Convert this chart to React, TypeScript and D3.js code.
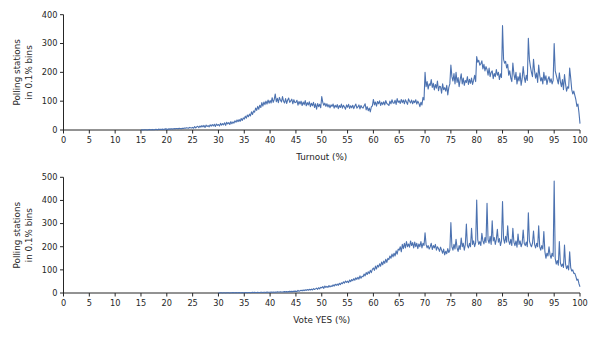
import React from 'react';
import * as d3 from 'd3';

const xTicks = [0, 5, 10, 15, 20, 25, 30, 35, 40, 45, 50, 55, 60, 65, 70, 75, 80, 85, 90, 95, 100];
const turnoutYTicks = [0, 100, 200, 300, 400];
const yesYTicks = [0, 100, 200, 300, 400, 500];
const binStep = 0.2;

const turnoutStart = 15;
const turnoutCounts = [
  0, 1, 0, 1, 1, 1, 0, 1, 2, 1, 1, 2, 1, 1, 2, 2, 1, 3, 2, 2, 2, 3, 2, 3, 4,
  3, 2, 4, 3, 4, 4, 3, 5, 4, 5, 5, 4, 6, 5, 4, 6, 5, 7, 6, 8, 7, 6, 9, 8, 7,
  9, 6, 12, 7, 11, 13, 8, 14, 10, 15, 11, 16, 9, 17, 12, 15, 11, 18, 13, 19, 14, 20, 12, 21, 16,
  19, 14, 23, 17, 22, 18, 25, 16, 27, 21, 26, 19, 29, 22, 28, 24, 32, 27, 35, 29, 36, 30, 40, 33, 42,
  38, 48, 41, 52, 46, 55, 49, 63, 54, 66, 62, 76, 68, 82, 72, 86, 78, 95, 83, 97, 88, 100, 90, 104, 93,
  102, 94, 112, 96, 106, 125, 98, 110, 95, 113, 104, 97, 116, 100, 94, 109, 92, 104, 111, 96, 101, 107, 91, 105, 95,
  96, 103, 86, 99, 90, 100, 85, 97, 88, 102, 84, 95, 87, 98, 81, 93, 84, 96, 78, 91, 72, 92, 81, 89, 77,
  116, 96, 86, 93, 82, 91, 80, 88, 77, 87, 82, 90, 76, 86, 79, 88, 74, 85, 78, 90, 76, 86, 80, 72, 87,
  79, 89, 75, 84, 77, 86, 74, 83, 90, 76, 80, 87, 73, 85, 78, 76, 84, 91, 70, 81, 67, 76, 63, 80, 84,
  106, 87, 97, 83, 99, 91, 101, 85, 96, 88, 98, 87, 102, 92, 89, 85, 100, 91, 105, 94, 93, 103, 89, 109, 96,
  101, 92, 106, 95, 104, 91, 105, 97, 89, 108, 100, 94, 104, 91, 101, 95, 105, 90, 100, 93, 81, 96, 87, 113, 104,
  200, 150, 168, 142, 160, 155, 175, 148, 162, 139, 158, 145, 170, 136, 152, 150, 128, 160, 140, 147, 135, 155, 122, 148, 160,
  225, 185, 170, 196, 160, 200, 165, 182, 150, 175, 195, 160, 180, 155, 172, 165, 185, 158, 176, 162, 180, 158, 172, 190, 168,
  255, 235, 242, 225, 230, 240, 212, 228, 205, 220, 210, 190, 215, 185, 200, 205, 178, 196, 185, 210, 190, 200, 175, 195, 182,
  362, 245, 232, 238, 215, 228, 190, 205, 180, 168, 232, 195, 175, 200, 160, 185, 170, 198, 155, 178, 220, 185, 165, 190, 172,
  318, 245, 220, 200, 185, 245, 205, 180, 198, 165, 225, 190, 170, 182, 160, 200, 172, 188, 158, 176, 185, 165, 178, 160, 172,
  300, 205, 190, 175, 160, 198, 168, 150, 175, 140, 192, 160, 135, 150, 145, 215, 180, 140, 125, 135, 120, 105, 82, 90, 60,
  22,
];

const yesStart = 30;
const yesCounts = [
  1, 0, 1, 1, 0, 1, 1, 0, 1, 1, 1, 0, 1, 1, 2, 1, 1, 2, 1, 1, 2, 1, 1, 2, 1,
  1, 2, 2, 1, 2, 2, 1, 2, 3, 2, 3, 2, 2, 3, 2, 2, 3, 3, 2, 3, 3, 2, 4, 3, 3,
  3, 4, 3, 4, 3, 4, 3, 5, 4, 4, 5, 4, 4, 5, 6, 5, 6, 5, 6, 7, 6, 7, 6, 8, 7,
  8, 6, 11, 7, 10, 12, 9, 13, 10, 14, 11, 15, 12, 16, 13, 17, 13, 19, 15, 18, 21, 16, 23, 18, 25,
  22, 28, 20, 30, 24, 29, 24, 32, 26, 31, 28, 35, 30, 38, 33, 39, 33, 42, 36, 44, 40, 48, 43, 52, 46,
  51, 45, 56, 49, 58, 53, 62, 55, 66, 59, 68, 60, 74, 64, 72, 70, 82, 74, 88, 80, 92, 84, 98, 88, 102,
  108, 98, 116, 104, 120, 112, 126, 116, 134, 122, 138, 128, 146, 132, 150, 144, 160, 150, 168, 156, 172, 160, 182, 168, 190,
  185, 200, 178, 210, 192, 215, 195, 222, 200, 212, 198, 225, 205, 218, 195, 220, 200, 215, 192, 212, 200, 222, 195, 215, 205,
  260, 210, 195, 205, 190, 200, 215, 188, 205, 195, 210, 185, 200, 192, 180, 198, 185, 172, 190, 165, 180, 170, 192, 175, 185,
  304, 200, 185, 210, 190, 232, 195, 180, 205, 188, 238, 200, 215, 185, 210, 298, 205, 195, 215, 200, 280, 210, 225, 200, 218,
  402, 230, 210, 222, 205, 258, 225, 212, 240, 218, 388, 230, 215, 245, 210, 312, 225, 240, 210, 232, 275, 220, 235, 205, 225,
  395, 235, 215, 245, 220, 290, 225, 210, 232, 205, 280, 220, 205, 225, 198, 255, 210, 225, 200, 215, 272, 215, 205, 220, 200,
  347, 225, 210, 200, 215, 268, 210, 195, 215, 200, 290, 200, 185, 205, 190, 266, 180, 150, 172, 160, 200, 165, 150, 172, 158,
  484, 150, 125, 140, 120, 222, 130, 115, 125, 110, 207, 125, 105, 118, 100, 178, 110, 95, 100, 85, 85, 72, 55, 60, 40,
  27,
];

const FONT = 'DejaVu Sans, sans-serif';
const TEXT = '#262626';
const LINE = '#4c72b0';
const FS = 8.2;

type PanelProps = {
  counts: number[];
  start: number;
  yTicks: number[];
  y0: number;
  y1: number;
  xLabel: string;
};

function Panel({ counts, start, yTicks, y0, y1, xLabel }: PanelProps) {
  const x = d3.scaleLinear().domain([0, 100]).range([63.5, 580]);
  const y = d3.scaleLinear().domain([0, yTicks[yTicks.length - 1]]).range([y0, y1]);
  const pts: [number, number][] = counts.map((c, i) => [start + i * binStep, c]);
  const line = d3.line<[number, number]>().x((d) => x(d[0])).y((d) => y(d[1]));
  const midY = (y0 + y1) / 2;
  return (
    <g>
      <line x1={x(0)} x2={x(0)} y1={y(0)} y2={y(yTicks[yTicks.length - 1])} stroke={TEXT} strokeWidth={1} />
      <line x1={x(0)} x2={x(100)} y1={y(0)} y2={y(0)} stroke={TEXT} strokeWidth={1} />
      {yTicks.map((t) => (
        <g key={'y' + t}>
          <line x1={x(0) - 3.5} x2={x(0)} y1={y(t)} y2={y(t)} stroke={TEXT} strokeWidth={1} />
          <text x={x(0) - 6} y={y(t)} dy="0.35em" textAnchor="end" fontSize={FS} fill={TEXT} fontFamily={FONT}>
            {t}
          </text>
        </g>
      ))}
      {xTicks.map((t) => (
        <g key={'x' + t}>
          <line x1={x(t)} x2={x(t)} y1={y(0)} y2={y(0) + 3.5} stroke={TEXT} strokeWidth={1} />
          <text x={x(t)} y={y(0) + 13} textAnchor="middle" fontSize={FS} fill={TEXT} fontFamily={FONT}>
            {t}
          </text>
        </g>
      ))}
      <text x={(x(0) + x(100)) / 2} y={y(0) + 29.5} textAnchor="middle" fontSize={FS + 0.6} fill={TEXT} fontFamily={FONT}>
        {xLabel}
      </text>
      <text transform={`translate(20,${midY}) rotate(-90)`} textAnchor="middle" fontSize={FS + 0.6} fill={TEXT} fontFamily={FONT}>
        Polling stations
      </text>
      <text transform={`translate(31.5,${midY}) rotate(-90)`} textAnchor="middle" fontSize={FS + 0.6} fill={TEXT} fontFamily={FONT}>
        in 0.1% bins
      </text>
      <path d={line(pts) || ''} fill="none" stroke={LINE} strokeWidth={1.1} strokeLinejoin="round" />
    </g>
  );
}

export default function App() {
  return (
    <svg width={600} height={337} style={{ position: 'absolute', left: 0, top: 0, background: '#fff' }}>
      <rect width={600} height={337} fill="#fff" />
      <Panel counts={turnoutCounts} start={turnoutStart} yTicks={turnoutYTicks} y0={130} y1={14.7} xLabel="Turnout (%)" />
      <Panel counts={yesCounts} start={yesStart} yTicks={yesYTicks} y0={293} y1={177.3} xLabel="Vote YES (%)" />
    </svg>
  );
}
